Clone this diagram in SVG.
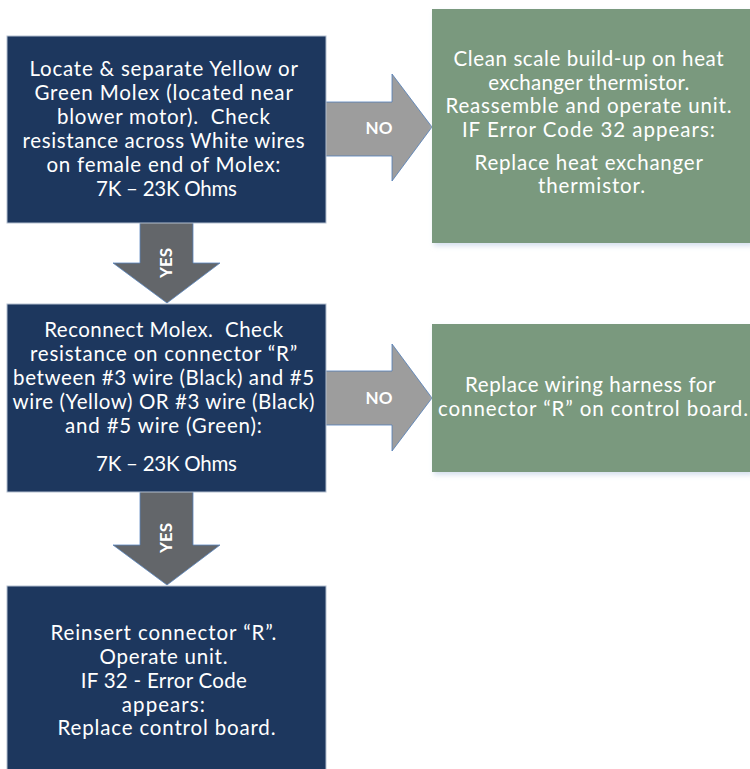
<svg xmlns="http://www.w3.org/2000/svg" width="750" height="769" viewBox="0 0 750 769">
  <style>
    .step { fill: #1d375e; stroke: #b3bfcf; stroke-width: 1; }
    .action { fill: #7a997e; }
    .txt { font-family: Lato, "Open Sans", "Liberation Sans", sans-serif; font-size: 20.5px; fill: #ffffff; text-anchor: middle; }
    .yes { fill: #63666a; stroke: #5b86bf; stroke-width: 0.8; }
    .no { fill: #9d9d9d; stroke: #4f7cb8; stroke-width: 0.8; }
    .lbl { font-family: Lato, "Open Sans", "Liberation Sans", sans-serif; font-size: 17px; font-weight: bold; fill: #ffffff; text-anchor: middle; }
  </style>
  <defs>
    <filter id="soft" x="-10%" y="-10%" width="130%" height="130%">
      <feGaussianBlur stdDeviation="2.5"/>
    </filter>
  </defs>
  <rect width="750" height="769" fill="#ffffff"/>

  <!-- connectors: block arrows with their labels -->
  <g id="connectors">
    <polygon class="no" points="322,102 392,102 392,74 432,127 392,181 392,156 322,156"/>
    <text class="lbl" x="379" y="134">NO</text>
    <polygon class="no" points="322,371 392,371 392,344 432,398 392,451 392,425 322,425"/>
    <text class="lbl" x="379" y="404">NO</text>
    <polygon class="yes" points="140,220 193,220 193,263 220,263 167,303 113,263 140,263"/>
    <text class="lbl" transform="translate(172,263) rotate(-90)">YES</text>
    <polygon class="yes" points="140,489 193,489 193,545 220,545 167,585 113,545 140,545"/>
    <text class="lbl" transform="translate(172,538) rotate(-90)">YES</text>
  </g>

  <!-- step 1: check Molex resistance -->
  <g id="step1">
    <rect class="step" x="7" y="36" width="319" height="187"/>
    <text class="txt">
      <tspan x="166.5" y="76" textLength="268">Locate &amp; separate Yellow or</tspan>
      <tspan x="166.5" y="100" textLength="258">Green Molex (located near</tspan>
      <tspan x="166.5" y="124" textLength="213">blower motor).&#160; Check</tspan>
      <tspan x="166.5" y="148" textLength="282">resistance across White wires</tspan>
      <tspan x="166.5" y="172" textLength="234">on female end of Molex:</tspan>
      <tspan x="166.5" y="196" textLength="141">7K – 23K Ohms</tspan>
    </text>
  </g>

  <!-- action 1: clean thermistor -->
  <g id="action1">
    <rect x="434" y="12" width="319" height="234" fill="#d6e0ee" filter="url(#soft)"/>
    <rect class="action" x="432" y="9" width="319" height="234"/>
    <text class="txt">
      <tspan x="591.5" y="66" textLength="270">Clean scale build-up on heat</tspan>
      <tspan x="591.5" y="90" textLength="201">exchanger thermistor.</tspan>
      <tspan x="591.5" y="113" textLength="286">Reassemble and operate unit.</tspan>
      <tspan x="591.5" y="137" textLength="253">IF Error Code 32 appears:</tspan>
      <tspan x="591.5" y="170" textLength="228">Replace heat exchanger</tspan>
      <tspan x="591.5" y="193" textLength="107">thermistor.</tspan>
    </text>
  </g>

  <!-- step 2: check connector R -->
  <g id="step2">
    <rect class="step" x="7" y="304" width="319" height="188"/>
    <text class="txt">
      <tspan x="166.5" y="337" textLength="239">Reconnect Molex.&#160; Check</tspan>
      <tspan x="166.5" y="361" textLength="267">resistance on connector “R”</tspan>
      <tspan x="166.5" y="385" textLength="301">between #3 wire (Black) and #5</tspan>
      <tspan x="166.5" y="409" textLength="302">wire (Yellow) OR #3 wire (Black)</tspan>
      <tspan x="166.5" y="433" textLength="197">and #5 wire (Green):</tspan>
      <tspan x="166.5" y="471" textLength="141">7K – 23K Ohms</tspan>
    </text>
  </g>

  <!-- action 2: replace harness -->
  <g id="action2">
    <rect x="434" y="327" width="319" height="148" fill="#d6e0ee" filter="url(#soft)"/>
    <rect class="action" x="432" y="324" width="319" height="148"/>
    <text class="txt">
      <tspan x="593" y="392" textLength="250">Replace wiring harness for</tspan>
      <tspan x="593" y="416" textLength="310">connector “R” on control board.</tspan>
    </text>
  </g>

  <!-- step 3: replace control board -->
  <g id="step3">
    <rect class="step" x="7" y="586" width="319" height="188"/>
    <text class="txt">
      <tspan x="166.5" y="640" textLength="226">Reinsert connector “R”.</tspan>
      <tspan x="166.5" y="664" textLength="128">Operate unit.</tspan>
      <tspan x="166.5" y="688" textLength="166">IF 32 - Error Code</tspan>
      <tspan x="166.5" y="712" textLength="83">appears:</tspan>
      <tspan x="166.5" y="735" textLength="218">Replace control board.</tspan>
    </text>
  </g>
</svg>
